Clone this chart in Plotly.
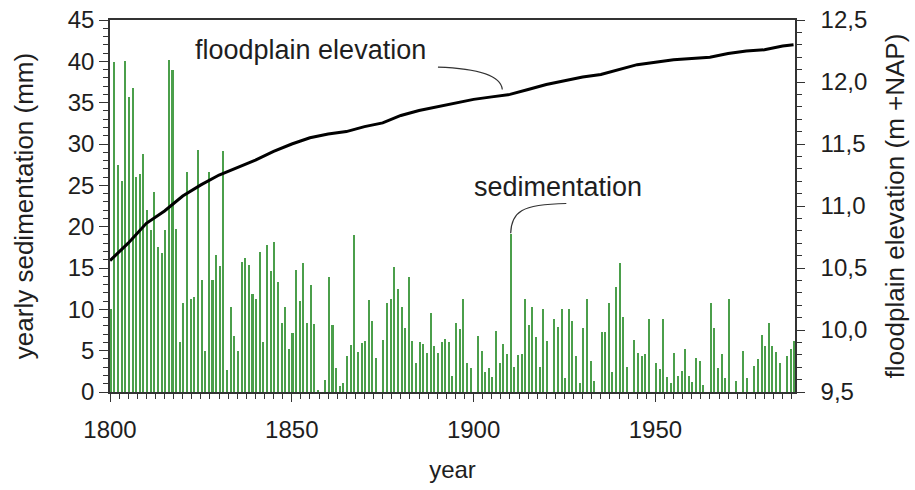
import plotly.graph_objects as go

# ---- data ----
years = list(range(1800, 1989))
sedimentation_mm = [
    10.1, 39.9, 27.4, 25.5, 40.1, 35.7, 36.8, 26.0, 26.4, 28.8,   # 1800-1809
    22.0, 19.6, 24.2, 17.5, 16.8, 19.6, 40.2, 38.9, 19.7, 6.0,    # 1810-1819
    10.8, 26.6, 11.2, 11.5, 29.3, 13.6, 5.0, 26.6, 13.5, 16.6,    # 1820-1829
    15.2, 29.1, 2.7, 10.3, 6.8, 5.0, 15.7, 16.2, 15.4, 11.9,      # 1830-1839
    11.3, 16.9, 6.0, 17.8, 14.6, 18.1, 13.3, 8.3, 10.3, 5.2,      # 1840-1849
    7.1, 14.7, 11.0, 15.6, 8.3, 12.9, 8.2, 0.3, 0.0, 1.5,         # 1850-1859
    13.9, 8.1, 2.9, 0.7, 1.1, 4.3, 5.7, 19.0, 4.8, 5.9,           # 1860-1869
    6.2, 11.1, 8.6, 4.1, 0.0, 6.3, 10.8, 11.2, 15.1, 12.4,        # 1870-1879
    10.3, 7.7, 13.9, 6.2, 3.5, 6.1, 5.8, 4.7, 9.5, 5.6,           # 1880-1889
    4.7, 6.0, 6.4, 6.0, 1.9, 8.4, 7.6, 11.3, 3.5, 2.9,            # 1890-1899
    0.0, 6.8, 5.0, 2.4, 2.9, 1.8, 7.4, 3.5, 5.8, 4.6,             # 1900-1909
    19.1, 3.0, 4.5, 4.6, 11.3, 8.1, 10.3, 6.7, 3.0, 10.1,         # 1910-1919
    6.2, 0.0, 8.8, 7.9, 10.0, 1.7, 10.1, 8.6, 4.3, 1.1,           # 1920-1929
    7.7, 11.2, 3.7, 1.3, 0.0, 7.2, 7.3, 10.8, 2.4, 12.7,          # 1930-1939
    15.6, 9.1, 3.0, 0.0, 6.3, 4.7, 4.3, 4.6, 8.8, 0.0,            # 1940-1949
    3.5, 2.8, 8.8, 1.8, 1.1, 4.7, 1.9, 2.5, 5.2, 1.9,             # 1950-1959
    1.2, 4.1, 3.7, 0.8, 0.0, 10.8, 7.8, 2.9, 4.6, 1.7,            # 1960-1969
    11.2, 0.0, 1.3, 0.0, 5.0, 1.7, 0.0, 3.1, 4.0, 6.9,            # 1970-1979
    5.6, 8.3, 5.6, 4.8, 3.5, 0.0, 4.3, 5.2, 6.2,                  # 1980-1988
]

elev_years = [1800, 1805, 1810, 1815, 1820, 1825, 1830, 1835, 1840, 1845,
              1850, 1855, 1860, 1865, 1870, 1875, 1880, 1885, 1890, 1895,
              1900, 1905, 1910, 1915, 1920, 1925, 1930, 1935, 1940, 1945,
              1950, 1955, 1960, 1965, 1970, 1975, 1980, 1985, 1988]
elevation_m = [10.56, 10.70, 10.86, 10.96, 11.08, 11.17, 11.25, 11.31, 11.37, 11.44,
               11.50, 11.55, 11.58, 11.60, 11.64, 11.67, 11.73, 11.77, 11.80, 11.83,
               11.86, 11.88, 11.90, 11.94, 11.98, 12.01, 12.04, 12.06, 12.10, 12.14,
               12.16, 12.18, 12.19, 12.20, 12.23, 12.25, 12.26, 12.29, 12.30]

x_ticks = [1800, 1850, 1900, 1950]

FONT = "Liberation Sans, Arial, sans-serif"
TXT = "#1e1e1e"
AX = "#333333"

fig = go.Figure()
fig.add_trace(go.Bar(
    x=years, y=sedimentation_mm, width=0.42, offset=0.05,
    marker=dict(color="#4b9f4b", line=dict(width=0)),
    name="sedimentation", yaxis="y",
))
fig.add_trace(go.Scatter(
    x=elev_years, y=elevation_m, mode="lines",
    line=dict(color="#000000", width=3),
    name="floodplain elevation", yaxis="y2",
))

axis_common = dict(showline=True, linecolor=AX, linewidth=1.5,
                   ticks="outside", tickcolor=AX, tickwidth=1.2,
                   showgrid=False, zeroline=False, automargin=False,
                   tickfont=dict(family=FONT, size=24, color=TXT))

fig.update_layout(
    width=915, height=490,
    margin=dict(l=110, r=120, t=20, b=98),
    paper_bgcolor="white", plot_bgcolor="white",
    separators=", ",
    showlegend=False,
    bargap=0,
    font=dict(family=FONT, color=TXT),
    xaxis=dict(range=[1800, 1988.4], tickvals=x_ticks, ticklen=8, ticklabelstandoff=7,
               minor=dict(dtick=2.5, tick0=1800, ticklen=5, ticks="outside", tickcolor=AX),
               mirror=True,
               title=dict(text="year", font=dict(family=FONT, size=24, color=TXT), standoff=20),
               **axis_common),
    yaxis=dict(range=[0, 45], dtick=5, tick0=0, ticklen=9,
               minor=dict(dtick=1, ticklen=5, ticks="outside", tickcolor=AX),
               title=dict(text="yearly sedimentation (mm)", font=dict(family=FONT, size=26, color=TXT), standoff=27),
               **axis_common),
    yaxis2=dict(range=[9.5, 12.5], dtick=0.5, tick0=9.5, ticklen=8, tickformat=".1f",
                ticklabelstandoff=11,
                overlaying="y", side="right",
                minor=dict(dtick=0.1, ticklen=5, ticks="outside", tickcolor=AX),
                title=dict(text="floodplain elevation (m +NAP)", font=dict(family=FONT, size=26, color=TXT), standoff=20),
                **axis_common),
)

# labels with leader lines
fig.add_annotation(x=1855.1, y=12.26, xref="x", yref="y2", text="floodplain elevation",
                   showarrow=False, font=dict(family=FONT, size=27, color=TXT))
fig.add_annotation(x=1923.1, y=24.8, xref="x", yref="y", text="sedimentation",
                   showarrow=False, font=dict(family=FONT, size=27, color=TXT))
fig.add_shape(type="path", xref="x", yref="y2",
              path="M 1890.2,12.12 C 1900,12.11 1907.5,12.06 1907.9,11.94",
              line=dict(color="#333333", width=1.2))
fig.add_shape(type="path", xref="x", yref="y",
              path="M 1910.2,19.2 C 1910.4,21.8 1913,22.7 1925.5,22.8",
              line=dict(color="#333333", width=1.2))

fig.write_html("out.html")
